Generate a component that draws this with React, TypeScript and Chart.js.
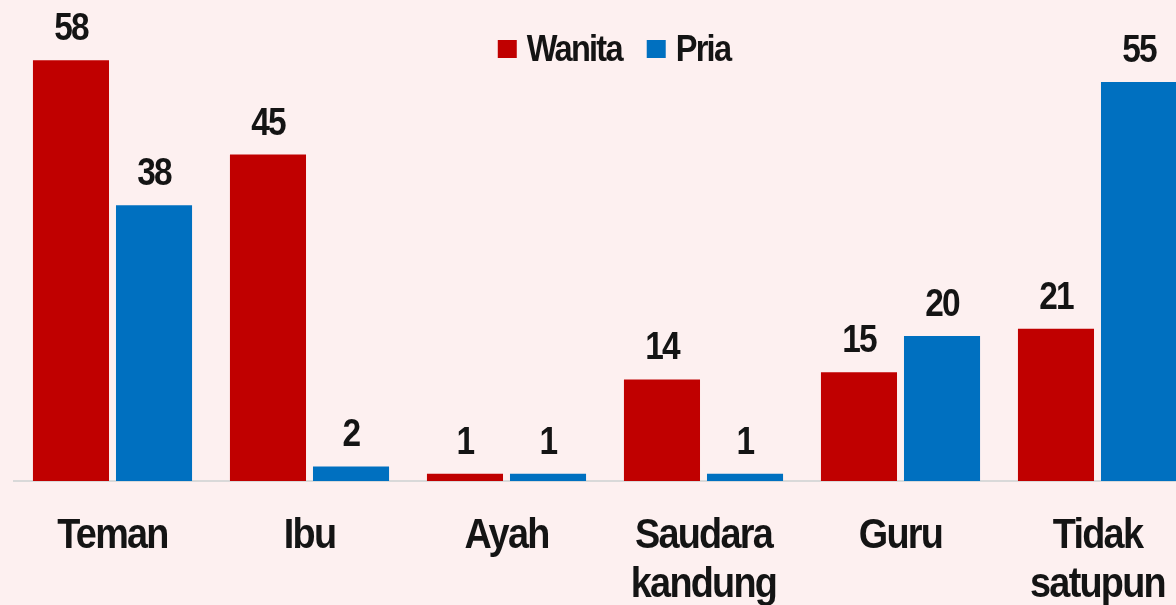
import React, { useEffect, useRef } from "react";
import { Chart, registerables } from "chart.js";

Chart.register(...registerables);

const categories: (string | string[])[] = ["Teman", "Ibu", "Ayah", ["Saudara", "kandung"], "Guru", ["Tidak", "satupun"]];
const seriesNames = ["Wanita", "Pria"];
const wanitaValues = [58, 45, 1, 14, 15, 21];
const priaValues = [38, 2, 1, 1, 20, 55];
const seriesColors = ["#c00000", "#0070c0"];

const FONT = "'Liberation Sans', Arial, sans-serif";
const TEXT = "#141414";
const BG = "#fdf0f0";
const NARROW = 0.88;
const SPACING = "-2px";

function narrowText(ctx: any, text: string, x: number, y: number) {
  ctx.save();
  ctx.translate(x, y);
  ctx.scale(NARROW, 1);
  ctx.letterSpacing = SPACING;
  ctx.fillText(text, 0, 0);
  ctx.restore();
}

function narrowWidth(ctx: any, text: string) {
  ctx.save();
  ctx.letterSpacing = SPACING;
  const w = ctx.measureText(text).width * NARROW;
  ctx.restore();
  return w;
}

const valueLabels = {
  id: "valueLabels",
  afterDatasetsDraw(chart: any) {
    const ctx = chart.ctx;
    ctx.save();
    ctx.font = `bold 38px ${FONT}`;
    ctx.fillStyle = TEXT;
    ctx.textAlign = "center";
    ctx.textBaseline = "alphabetic";
    chart.data.datasets.forEach((ds: any, i: number) => {
      const meta = chart.getDatasetMeta(i);
      meta.data.forEach((bar: any, j: number) => {
        narrowText(ctx, String(ds.data[j]), bar.x, bar.y - 20);
      });
    });
    ctx.restore();
  },
};

const categoryLabels = {
  id: "categoryLabels",
  afterDraw(chart: any) {
    const ctx = chart.ctx;
    const xs = chart.scales.x;
    const bottom = chart.chartArea.bottom;
    ctx.save();
    ctx.font = `bold 43px ${FONT}`;
    ctx.fillStyle = TEXT;
    ctx.textAlign = "center";
    ctx.textBaseline = "alphabetic";
    (chart.data.labels as any[]).forEach((lab: any, i: number) => {
      const lines = Array.isArray(lab) ? lab : [lab];
      const x = xs.getPixelForTick(i);
      lines.forEach((ln: string, k: number) => {
        narrowText(ctx, ln, x, bottom + 67 + k * 49);
      });
    });
    ctx.restore();
  },
};

const customLegend = {
  id: "customLegend",
  afterDraw(chart: any) {
    const ctx = chart.ctx;
    ctx.save();
    ctx.font = `bold 37px ${FONT}`;
    ctx.textBaseline = "alphabetic";
    ctx.textAlign = "left";
    const boxW = 19;
    const boxH = 18;
    const boxGap = 10;
    const itemGap = 25;
    const names = chart.data.datasets.map((d: any) => d.label);
    const widths = names.map((n: string) => narrowWidth(ctx, n));
    let total = 0;
    widths.forEach((w: number, i: number) => {
      total += boxW + boxGap + w + (i < widths.length - 1 ? itemGap : 0);
    });
    const center = 614;
    let x = center - total / 2;
    const baseline = 61;
    chart.data.datasets.forEach((d: any, i: number) => {
      ctx.fillStyle = d.backgroundColor;
      ctx.fillRect(x, 40, boxW, boxH);
      x += boxW + boxGap;
      ctx.fillStyle = TEXT;
      narrowText(ctx, d.label, x, baseline);
      x += widths[i] + itemGap;
    });
    ctx.restore();
  },
};

export default function App() {
  const ref = useRef<HTMLCanvasElement | null>(null);
  useEffect(() => {
    if (!ref.current) return;
    const chart = new Chart(ref.current, {
      type: "bar",
      data: {
        labels: categories,
        datasets: [
          { label: seriesNames[0], data: wanitaValues, backgroundColor: seriesColors[0], categoryPercentage: 0.843, barPercentage: 0.916 },
          { label: seriesNames[1], data: priaValues, backgroundColor: seriesColors[1], categoryPercentage: 0.843, barPercentage: 0.916 },
        ],
      },
      options: {
        responsive: false,
        animation: false,
        devicePixelRatio: 1,
        layout: { padding: { left: 14, right: 0, top: 0, bottom: 0 } },
        plugins: { legend: { display: false }, tooltip: { enabled: false } },
        scales: {
          x: {
            grid: { display: false, drawTicks: false },
            border: { display: true, color: "#d9d9d9", width: 2 },
            ticks: { display: false },
            afterFit: (s: any) => {
              s.height = 124;
            },
          },
          y: { display: false, min: 0, max: 66.3 },
        },
      },
      plugins: [valueLabels, categoryLabels, customLegend],
    });
    return () => chart.destroy();
  }, []);
  return (
    <div style={{ position: "fixed", left: 0, top: 0, width: 1176, height: 605, overflow: "hidden", background: BG }}>
      <canvas ref={ref} width={1196} height={605} style={{ display: "block", width: 1196, height: 605 }} />
    </div>
  );
}
